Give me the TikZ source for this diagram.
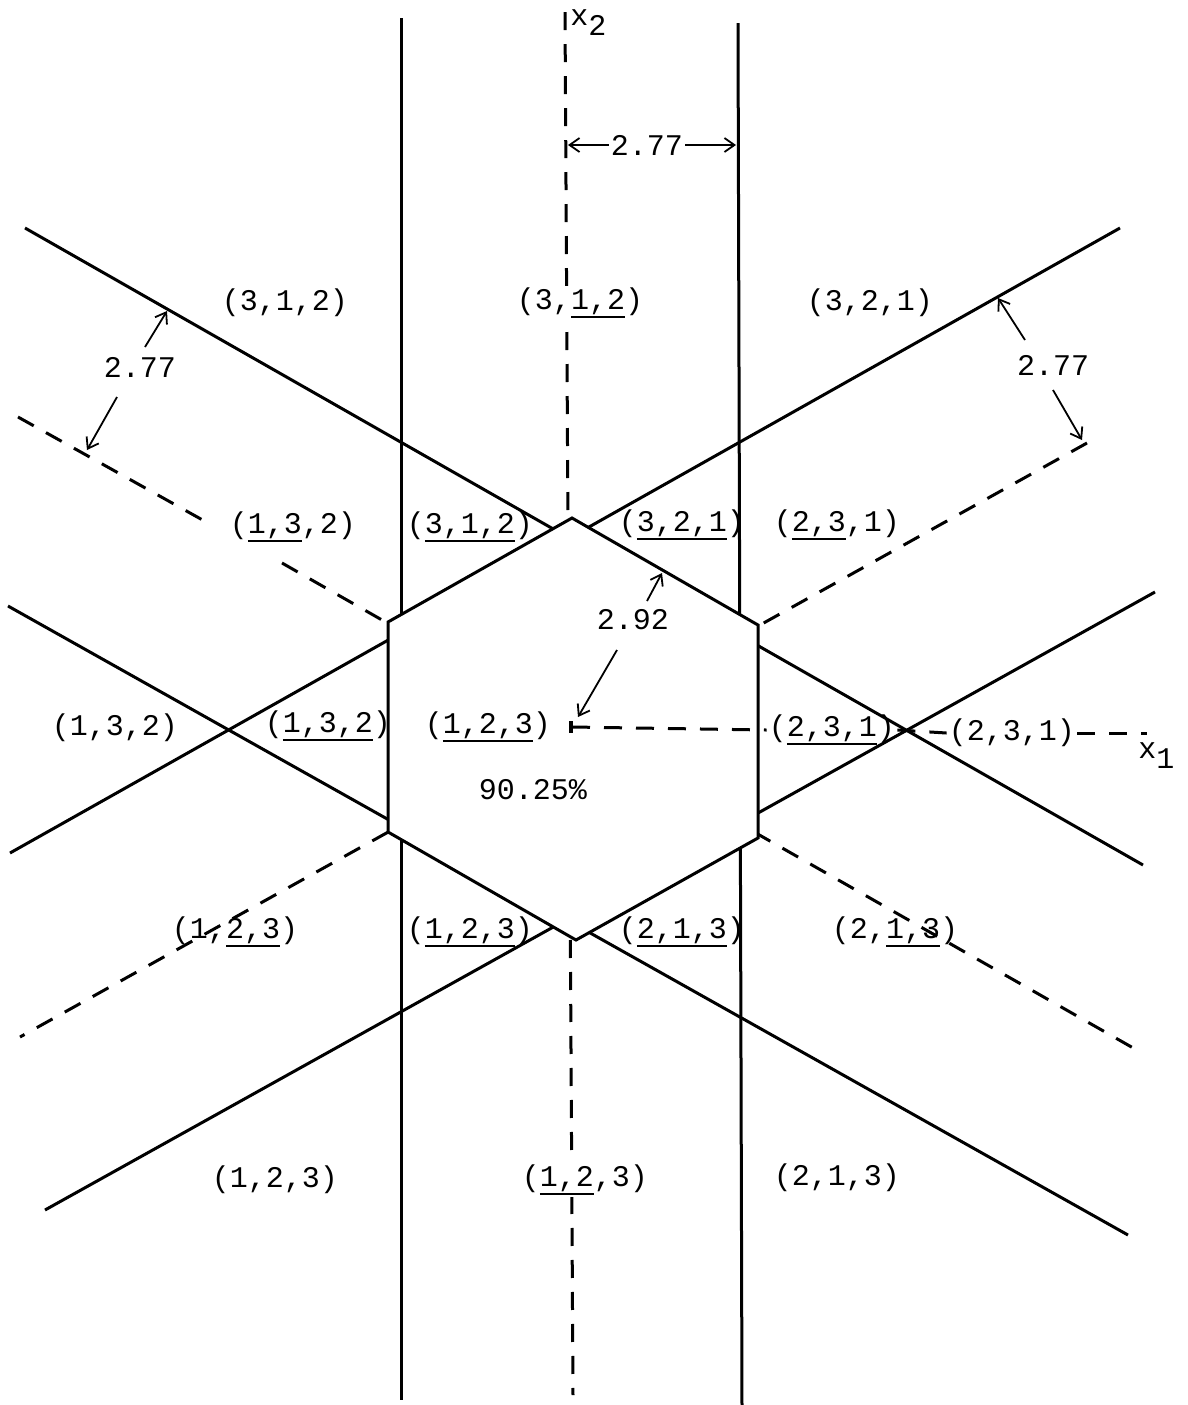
\documentclass[tikz,border=0pt]{standalone}
\usepackage{fontspec}
\newfontfamily\tw{Liberation Mono}
\usetikzlibrary{arrows.meta}
\newcommand\myul[1]{\setbox0=\hbox{#1}\rlap{\rule[-4pt]{\wd0}{0.9pt}}\box0}
\begin{document}
\begin{tikzpicture}[x=0.5pt,y=-0.5pt,
  sline/.style={line width=1.5pt},
  dline/.style={line width=1.5pt, dash pattern=on 9pt off 7pt},
  lab/.style={font=\tw\fontsize{15pt}{18pt}\selectfont, inner sep=1pt},
  arr/.style={line width=0.9pt, -{Straight Barb[length=5pt,width=7pt]}},
]
\useasboundingbox (0,0) rectangle (1188,1405);
% ---- coordinates
\coordinate (VL1) at (401,18);   \coordinate (VL2) at (401,1400);
\coordinate (VR1) at (738,23);   \coordinate (VR2) at (742,1405);
\coordinate (X2a) at (565,12);   \coordinate (X2b) at (573,1395);
\coordinate (A1) at (25,228);    \coordinate (A2) at (1143,865);
\coordinate (B1) at (1120,228);  \coordinate (B2) at (10,853);
\coordinate (C1) at (8,606);     \coordinate (C2) at (1128,1235);
\coordinate (D1) at (1155,592);  \coordinate (D2) at (45,1210);
\coordinate (E1) at (18,417);    \coordinate (E2) at (208,523);
\coordinate (E3) at (282,563);   \coordinate (E4) at (1142,1053);
\coordinate (F1) at (1087,443);  \coordinate (F2) at (20,1037);
\coordinate (O) at (572,727);    \coordinate (X1e) at (1147,733);
\coordinate (H1) at (572,518);   \coordinate (H2) at (758,625);
\coordinate (H3) at (758,838);   \coordinate (H4) at (576,940);
\coordinate (H5) at (388,832);   \coordinate (H6) at (388,622);
% ---- lines behind the hexagon
\draw[sline] (VL1) -- (VL2);
\draw[sline] (VR1) -- (VR2);
\draw[dline] (X2a) -- (X2b);
\draw[sline] (A1) -- (A2);
\draw[sline] (B1) -- (B2);
\draw[sline] (C1) -- (C2);
\draw[sline] (D1) -- (D2);
\draw[dline] (E1) -- (E2);
\draw[dline] (E3) -- (E4);
\draw[dline] (F1) -- (F2);
% ---- hexagon
\draw[sline, fill=white, line join=miter] (H1) -- (H2) -- (H3) -- (H4) -- (H5) -- (H6) -- cycle;
% ---- labels
\node[lab] (n1) at (285,303) {(3,1,2)};
\node[lab, fill=white] (n2) at (580,303) {(3,\myul{1,2})};
\node[lab] (n3) at (870,303) {(3,2,1)};
\node[lab] (n4) at (293,527) {(\myul{1,3},2)};
\node[lab] (n5) at (470,527) {(\myul{3,1,2})};
\node[lab] (n6) at (682,525) {(\myul{3,2,1})};
\node[lab] (n7) at (837,525) {(\myul{2,3},1)};
\node[lab] (n8) at (115,728) {(1,3,2)};
\node[lab] (n9) at (328,726) {(\myul{1,3,2})};
\node[lab] (n10) at (488,727) {(\myul{1,2,3})};
\node[lab] (n11) at (832,730) {(\myul{2,3,1})};
\node[lab] (n12) at (1012,733) {(2,3,1)};
\node[lab] (n13) at (533,790) {90.25\%};
\node[lab] (n14) at (235,932) {(1,\myul{2,3})};
\node[lab] (n15) at (470,932) {(\myul{1,2,3})};
\node[lab] (n16) at (682,932) {(\myul{2,1,3})};
\node[lab] (n17) at (895,932) {(2,\myul{1,3})};
\node[lab] (n18) at (275,1180) {(1,2,3)};
\node[lab, fill=white] (n19) at (585,1180) {(\myul{1,2},3)};
\node[lab] (n20) at (837,1178) {(2,1,3)};
% ---- axes labels
\node[lab, anchor=base west, inner sep=0pt] (x2lab) at (570,25) {x\raisebox{-5pt}{2}};
\node[lab, anchor=base west, inner sep=0pt] (x1lab) at (1138,758) {x\raisebox{-5pt}{1}};
% ---- x1 axis
\draw[dline] (O) -- (n11.west);
\draw[dline] (n11.east) -- (n12.west);
\draw[dline] (n12.east) -- (X1e);
\draw[line width=2pt] (571,721) -- (571,733);
% ---- dimension 2.77 top
\node[lab] (t277) at (647,145) {2.77};
\coordinate (t277l) at (568,145); \coordinate (t277r) at (736,145);
\draw[arr] (t277.west) -- (t277l);
\draw[arr] (t277.east) -- (t277r);
% ---- dimension 2.77 left
\node[lab] (l277) at (140,367) {2.77};
\coordinate (l1s) at (145,347); \coordinate (l1e) at (167,311);
\coordinate (l2s) at (117,397); \coordinate (l2e) at (87,450);
\draw[arr] (l1s) -- (l1e);
\draw[arr] (l2s) -- (l2e);
% ---- dimension 2.77 right
\node[lab] (r277) at (1053,365) {2.77};
\coordinate (r1s) at (1025,340); \coordinate (r1e) at (998,298);
\coordinate (r2s) at (1053,390); \coordinate (r2e) at (1082,440);
\draw[arr] (r1s) -- (r1e);
\draw[arr] (r2s) -- (r2e);
% ---- 2.92
\node[lab] (t292) at (633,620) {2.92};
\coordinate (p1s) at (647,601); \coordinate (p1e) at (662,573);
\coordinate (p2s) at (617,650); \coordinate (p2e) at (578,717);
\draw[arr] (p1s) -- (p1e);
\draw[arr] (p2s) -- (p2e);
\end{tikzpicture}
\end{document}
